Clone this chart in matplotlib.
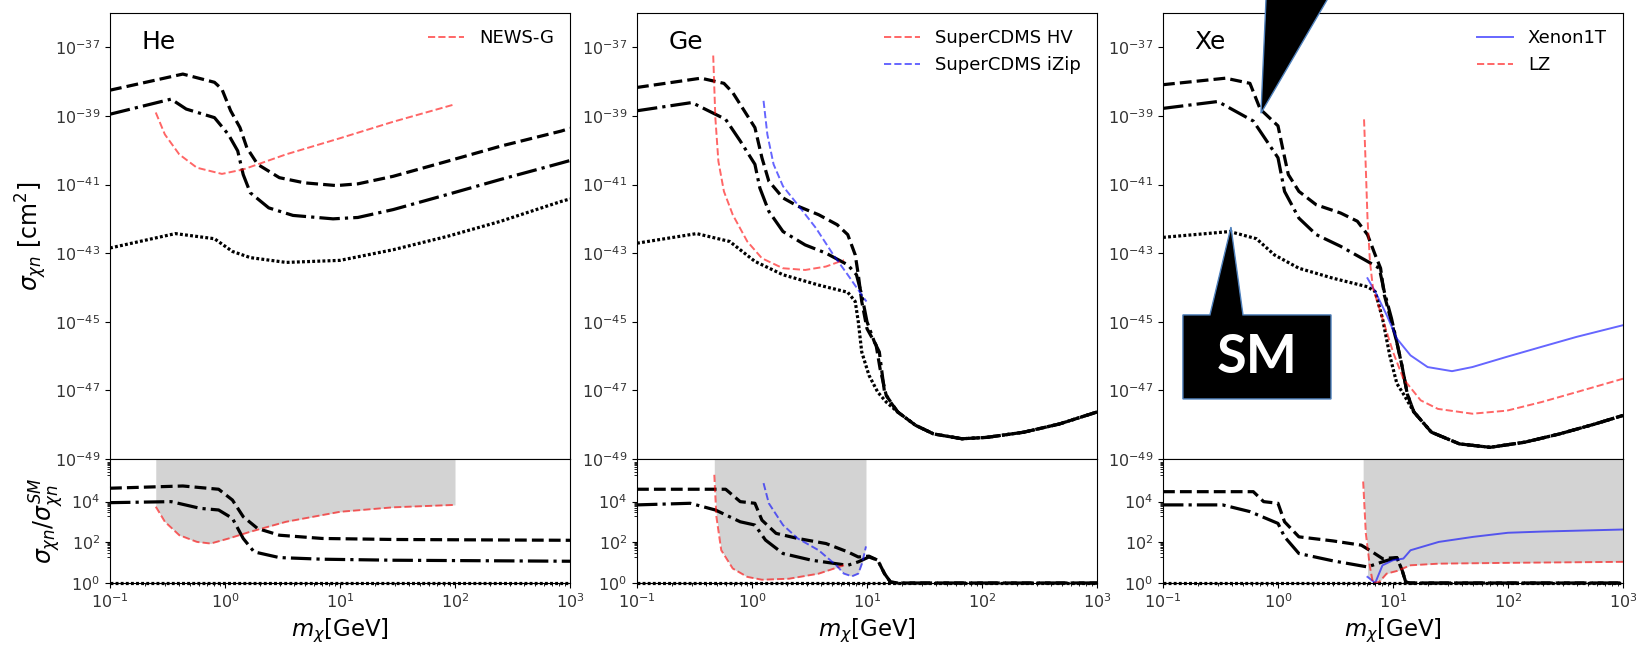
import numpy as np
import matplotlib
matplotlib.use("Agg")
import matplotlib.pyplot as plt
from matplotlib.patches import Polygon

# values; cross sections and ratios stored as log10

# --- He ---
he_x_dash = [0.1, 0.43, 0.81, 0.94, 1.12, 1.35, 1.55, 1.92, 2.97, 4.9, 9.3, 14.3, 29, 86, 250, 842, 1000]
he_dash = [-38.25, -37.78, -38.02, -38.22, -38.85, -39.34, -39.93, -40.41, -40.80, -40.95, -41.03, -40.98, -40.76, -40.32, -39.88, -39.44, -39.36]
he_x_dd = [0.1, 0.34, 0.46, 0.81, 1.07, 1.29, 1.44, 1.66, 2.4, 3.9, 8.7, 14.3, 29, 86, 250, 842, 1000]
he_dd = [-38.95, -38.51, -38.80, -39.05, -39.54, -40.02, -40.71, -41.24, -41.68, -41.90, -42.0, -41.96, -41.73, -41.29, -40.85, -40.37, -40.30]
he_x_sm = [0.1, 0.37, 0.81, 1.16, 1.66, 3.4, 10, 29, 86, 250, 842, 1000]
he_sm = [-42.85, -42.43, -42.58, -42.95, -43.13, -43.27, -43.21, -42.90, -42.51, -42.07, -41.49, -41.42]
he_x_news = [0.25, 0.30, 0.4, 0.57, 0.94, 1.44, 3.4, 10, 29, 100]
he_news = [-38.90, -39.54, -40.12, -40.51, -40.69, -40.56, -40.12, -39.65, -39.17, -38.66]

he_x_rdash = [0.1, 0.43, 0.88, 1.16, 1.44, 1.92, 2.97, 7.0, 29, 1000]
he_rdash = [4.66, 4.77, 4.61, 4.08, 3.26, 2.68, 2.35, 2.19, 2.14, 2.10]
he_x_rdd = [0.1, 0.34, 0.61, 0.88, 1.16, 1.44, 1.79, 2.97, 7.0, 29, 1000]
he_rdd = [3.95, 4.0, 3.67, 3.59, 3.18, 2.19, 1.53, 1.25, 1.17, 1.12, 1.07]
he_x_rnews = [0.25, 0.30, 0.4, 0.57, 0.75, 1.08, 1.66, 3.4, 10, 29, 100]
he_rnews = [3.75, 3.01, 2.35, 2.02, 1.94, 2.19, 2.52, 3.01, 3.50, 3.72, 3.84]

# --- Ge ---
ge_x_dash = [0.1, 0.36, 0.57, 0.68, 1.06, 1.22, 1.40, 1.86, 2.5, 3.8, 5.5, 6.8, 7.9, 8.4, 9.0, 10, 12, 13, 14.7, 18.5, 26.5, 38, 67, 110, 230, 470, 1000]
ge_dash = [-38.17, -37.90, -38.05, -38.32, -39.34, -40.22, -40.90, -41.39, -41.63, -41.88, -42.17, -42.46, -43.05, -43.63, -44.41, -45.2, -45.68, -46.37, -47.15, -47.63, -48.02, -48.27, -48.41, -48.37, -48.22, -47.98, -47.63]
ge_x_dd = [0.1, 0.30, 0.59, 0.79, 1.06, 1.17, 1.40, 1.86, 2.9, 4.4, 6.8, 8.1, 9.0, 10, 11.6, 12.8, 14.2, 16, 18.5, 26.5, 38, 67, 110, 230, 470, 1000]
ge_dd = [-38.85, -38.61, -39.10, -39.73, -40.41, -41.10, -41.78, -42.37, -42.76, -43.0, -43.34, -43.63, -44.22, -45.0, -45.59, -45.88, -47.05, -47.34, -47.63, -48.02, -48.27, -48.41, -48.37, -48.22, -47.98, -47.63]
ge_x_sm = [0.1, 0.33, 0.64, 1.06, 1.86, 3.8, 6.8, 7.9, 8.4, 9.0, 10.4, 12.4, 14.7, 18.5, 26.5, 38, 67, 110, 230, 470, 1000]
ge_sm = [-42.71, -42.43, -42.66, -43.24, -43.63, -43.93, -44.14, -44.41, -45.0, -45.88, -46.56, -47.05, -47.34, -47.63, -48.02, -48.27, -48.41, -48.37, -48.22, -47.98, -47.63]
ge_x_hv = [0.46, 0.48, 0.51, 0.57, 0.68, 0.91, 1.22, 1.86, 2.9, 4.4, 6.3]
ge_hv = [-37.24, -39.05, -40.32, -41.2, -41.88, -42.66, -43.15, -43.44, -43.49, -43.39, -43.2]
ge_x_izip = [1.26, 1.36, 1.54, 1.86, 2.5, 3.6, 5.1, 6.8, 9.0, 9.9]
ge_izip = [-38.56, -39.54, -40.41, -41.05, -41.59, -42.27, -43.05, -43.63, -44.22, -44.41]

ge_x_rdash = [0.1, 0.59, 0.79, 1.06, 1.22, 1.62, 2.5, 4.4, 6.8, 8.4, 10.4, 12.4, 14.2, 16, 18.5, 1000]
ge_rdash = [4.61, 4.61, 4.0, 3.92, 3.09, 2.44, 2.19, 1.94, 1.53, 1.28, 1.32, 1.12, 0.46, 0.05, 0, 0]
ge_x_rdd = [0.1, 0.29, 0.48, 0.79, 1.06, 1.31, 1.86, 3.3, 6.8, 8.4, 10.4, 12.4, 14.2, 16, 18.5, 1000]
ge_rdd = [3.84, 3.92, 3.59, 3.01, 2.85, 2.11, 1.45, 1.12, 0.87, 1.04, 1.28, 1.12, 0.46, 0.05, 0, 0]
ge_x_rhv = [0.47, 0.49, 0.54, 0.68, 0.91, 1.22, 2.1, 3.8, 6.3]
ge_rhv = [5.32, 3.26, 1.61, 0.71, 0.30, 0.16, 0.21, 0.46, 0.87]
ge_x_rizip = [1.26, 1.40, 1.86, 2.5, 3.8, 5.4, 6.3, 7.4, 8.4, 9.1, 9.8]
ge_rizip = [4.91, 3.92, 2.85, 2.19, 1.61, 0.87, 0.46, 0.33, 0.46, 1.0, 1.8]

# --- Xe ---
xe_x_dash = [0.1, 0.35, 0.57, 0.70, 1.0, 1.11, 1.23, 1.52, 2.15, 3.5, 4.9, 6.0, 7.0, 7.8, 8.4, 9.7, 10.8, 12.0, 13.3, 15.2, 21.6, 37.9, 70, 140, 280, 570, 1000]
xe_dash = [-38.09, -37.90, -38.05, -38.80, -39.29, -40.02, -40.71, -41.20, -41.59, -41.83, -42.07, -42.46, -43.05, -43.44, -44.22, -45.0, -45.6, -46.3, -47.1, -47.63, -48.22, -48.56, -48.66, -48.51, -48.27, -47.98, -47.73]
xe_x_dd = [0.1, 0.30, 0.61, 1.0, 1.14, 1.52, 2.15, 3.5, 6.0, 7.6, 8.4, 9.7, 10.8, 12.0, 13.3, 15.2, 21.6, 37.9, 70, 140, 280, 570, 1000]
xe_dd = [-38.78, -38.58, -39.15, -40.22, -41.20, -41.98, -42.46, -42.80, -43.24, -43.44, -44.12, -44.9, -45.6, -46.3, -47.1, -47.63, -48.22, -48.56, -48.66, -48.51, -48.27, -47.98, -47.73]
xe_x_sm = [0.1, 0.38, 0.65, 0.93, 1.52, 3.0, 6.0, 7.0, 8.1, 9.4, 10.8, 12.3, 15.2, 21.6, 37.9, 70, 140, 280, 570, 1000]
xe_sm = [-42.54, -42.37, -42.58, -43.05, -43.44, -43.73, -43.98, -44.12, -44.9, -46.0, -46.8, -47.1, -47.63, -48.22, -48.56, -48.66, -48.51, -48.27, -47.98, -47.73]
xe_x_x1t = [6.0, 7.0, 8.8, 10.8, 14.2, 20, 32.6, 49, 98, 196, 395, 1000]
xe_x1t = [-43.73, -44.12, -44.80, -45.49, -45.98, -46.32, -46.44, -46.32, -46.02, -45.73, -45.44, -45.10]
xe_x_lz = [5.6, 5.8, 6.0, 6.3, 6.7, 8.1, 10.0, 12.3, 17.4, 24.6, 49, 98, 196, 395, 1000]
xe_lz = [-39.10, -40.51, -41.98, -43.24, -44.02, -44.90, -45.88, -46.66, -47.29, -47.54, -47.68, -47.59, -47.34, -47.05, -46.66]

xe_x_rdash = [0.1, 0.61, 0.75, 1.0, 1.14, 1.52, 3.0, 5.3, 6.6, 8.1, 10.8, 12.0, 12.9, 14, 1000]
xe_rdash = [4.49, 4.49, 4.0, 3.92, 3.01, 2.27, 2.07, 1.86, 1.53, 1.20, 1.25, 0.63, 0.05, 0, 0]
xe_x_rdd = [0.1, 0.33, 0.57, 1.0, 1.14, 1.52, 3.0, 6.0, 8.1, 10.8, 12.0, 12.9, 14, 1000]
xe_rdd = [3.84, 3.84, 3.51, 2.93, 2.27, 1.45, 1.09, 0.79, 1.04, 1.25, 0.63, 0.05, 0, 0]
xe_x_rx1t = [6.0, 7.0, 8.1, 10, 12.3, 14.2, 25, 50, 100, 200, 1000]
xe_rx1t = [0.30, 0.0, 0.87, 1.12, 1.20, 1.61, 2.02, 2.27, 2.47, 2.53, 2.63]
xe_x_rlz = [5.5, 5.8, 6.3, 6.7, 7.6, 8.8, 10.8, 14.2, 25, 100, 1000]
xe_rlz = [4.99, 2.44, 0.79, 0.0, 0.05, 0.46, 0.59, 0.87, 0.95, 0.99, 1.04]

x_ticks = [0.1, 1, 10, 100, 1000]
top_yticks = [1e-49, 1e-47, 1e-45, 1e-43, 1e-41, 1e-39, 1e-37]
ratio_yticks = [1, 1e2, 1e4]


def pw(a):
    return 10.0 ** np.asarray(a, dtype=float)


W, H = 1636.0, 646.0
fig = plt.figure(figsize=(W / 100, H / 100), dpi=100)

# tight dotted pattern for the SM curves
DOT = (0, (0.9, 0.7))


def make_axes(left):
    ax = fig.add_axes([left / W, (H - 459) / H, 460 / W, 446 / H])
    axr = fig.add_axes([left / W, (H - 583) / H, 460 / W, 124 / H], sharex=ax)
    ax.set_xscale("log")
    ax.set_yscale("log")
    axr.set_yscale("log")
    ax.set_xlim(0.1, 1000)
    ax.set_ylim(1e-49, 1e-36)
    axr.set_ylim(1, 1.25e6)
    ax.set_yticks(top_yticks)
    ax.yaxis.set_minor_locator(matplotlib.ticker.NullLocator())
    ax.tick_params(axis="x", which="both", bottom=False, labelbottom=False)
    axr.set_xticks(x_ticks)
    axr.set_yticks(ratio_yticks)
    axr.set_yticks([k * 10.0 ** e for e in (1, 3, 5) for k in range(2, 10)], minor=True)
    axr.yaxis.set_minor_formatter(matplotlib.ticker.NullFormatter())
    for a in (ax, axr):
        a.tick_params(labelsize=11.5, labelcolor="#333333")
    axr.set_xlabel(r"$m_\chi$[GeV]", fontsize=16.5)
    return ax, axr


def black_curves(ax, axr, top, ratio):
    styles = ["--", "-.", DOT]
    for (x, y), ls in zip(top, styles):
        ax.plot(x, pw(y), linestyle=ls, color="k", lw=2.3)
    for (x, y), ls in zip(ratio, styles):
        axr.plot(x, pw(y), linestyle=ls, color="k", lw=2.3, clip_on=False)


def experiment(ax, axr, x, y, xr, r, color, ls, label):
    ax.plot(x, pw(y), ls, color=color, alpha=0.6, lw=1.4, label=label)
    axr.plot(xr, pw(r), ls, color=color, alpha=0.6, lw=1.4)
    axr.fill_between(xr, pw(r), 1e8, color="lightgrey", lw=0, zorder=0)


def sm_ratio(axr):
    axr.plot(x_ticks, np.ones(len(x_ticks)), linestyle=DOT, color="k", lw=2.3, clip_on=False)


# He
ax1, ax1r = make_axes(110)
black_curves(ax1, ax1r,
             [(he_x_dash, he_dash), (he_x_dd, he_dd), (he_x_sm, he_sm)],
             [(he_x_rdash, he_rdash), (he_x_rdd, he_rdd)])
sm_ratio(ax1r)
experiment(ax1, ax1r, he_x_news, he_news, he_x_rnews, he_rnews, "red", "--", "NEWS-G")
ax1.set_ylabel(r"$\sigma_{\chi n}$ [cm$^2$]", fontsize=17)
ax1r.set_ylabel(r"$\sigma_{\chi n}/\sigma_{\chi n}^{SM}$", fontsize=17)

# Ge
ax2, ax2r = make_axes(637)
black_curves(ax2, ax2r,
             [(ge_x_dash, ge_dash), (ge_x_dd, ge_dd), (ge_x_sm, ge_sm)],
             [(ge_x_rdash, ge_rdash), (ge_x_rdd, ge_rdd)])
sm_ratio(ax2r)
experiment(ax2, ax2r, ge_x_hv, ge_hv, ge_x_rhv, ge_rhv, "red", "--", "SuperCDMS HV")
experiment(ax2, ax2r, ge_x_izip, ge_izip, ge_x_rizip, ge_rizip, "blue", "--", "SuperCDMS iZip")

# Xe
ax3, ax3r = make_axes(1163)
black_curves(ax3, ax3r,
             [(xe_x_dash, xe_dash), (xe_x_dd, xe_dd), (xe_x_sm, xe_sm)],
             [(xe_x_rdash, xe_rdash), (xe_x_rdd, xe_rdd)])
sm_ratio(ax3r)
experiment(ax3, ax3r, xe_x_x1t, xe_x1t, xe_x_rx1t, xe_rx1t, "blue", "-", "Xenon1T")
experiment(ax3, ax3r, xe_x_lz, xe_lz, xe_x_rlz, xe_rlz, "red", "--", "LZ")

for ax, name in [(ax1, "He"), (ax2, "Ge"), (ax3, "Xe")]:
    ax.text(0.068, 0.935, name, transform=ax.transAxes, fontsize=18, va="center")
    ax.legend(loc="upper right", frameon=False, fontsize=13)

# callouts pasted on the Xe panel
edge = "#4f81bd"
top_arrow = Polygon([(0.793, 10 ** -35.33), (3.0, 10 ** -35.33), (0.711, 10 ** -38.92)],
                    closed=True, facecolor="black", edgecolor=edge, lw=1, clip_on=False, zorder=10)
ax3.add_patch(top_arrow)
sm_box = Polygon([(0.149, 10 ** -44.80), (0.256, 10 ** -44.80), (0.390, 10 ** -42.24),
                  (0.496, 10 ** -44.80), (2.89, 10 ** -44.80), (2.89, 10 ** -47.25),
                  (0.149, 10 ** -47.25)],
                 closed=True, facecolor="black", edgecolor=edge, lw=1, clip_on=False, zorder=10)
ax3.add_patch(sm_box)
ax3.text(0.656, 10 ** -46.03, "SM", color="white", fontsize=39, fontweight="bold",
         family="Lato", ha="center", va="center", zorder=11)

fig.savefig("out.png", dpi=100)
